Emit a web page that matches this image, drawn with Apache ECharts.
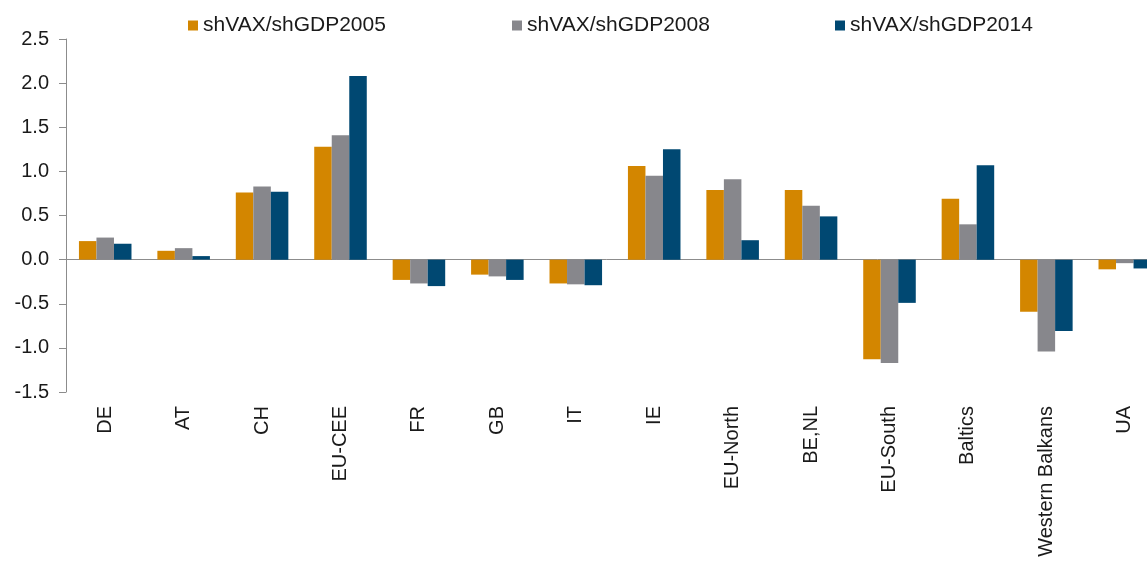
<!DOCTYPE html>
<html>
<head>
<meta charset="utf-8">
<script src="https://cdn.jsdelivr.net/npm/echarts@6/dist/echarts.min.js"></script>
<style>
html,body{margin:0;padding:0;background:#fff;overflow:hidden;}
#c{width:1147px;height:563px;}
</style>
</head>
<body>
<div id="c"></div>
<script>
var categories = ["DE","AT","CH","EU-CEE","FR","GB","IT","IE","EU-North","BE,NL","EU-South","Baltics","Western Balkans","UA"];
var seriesNames = ["shVAX/shGDP2005","shVAX/shGDP2008","shVAX/shGDP2014"];
var s2005 = [0.21,0.10,0.76,1.28,-0.23,-0.17,-0.27,1.06,0.79,0.79,-1.13,0.69,-0.59,-0.11];
var s2008 = [0.25,0.13,0.83,1.41,-0.27,-0.19,-0.28,0.95,0.91,0.61,-1.17,0.40,-1.04,-0.04];
var s2014 = [0.18,0.04,0.77,2.08,-0.30,-0.23,-0.29,1.25,0.22,0.49,-0.49,1.07,-0.81,-0.10];
var colors = ["#D38600","#87878C","#004872"];

var font = "Liberation Sans, Arial, sans-serif";
var chart = echarts.init(document.getElementById('c'), null, {renderer:'canvas'});
function mkLegend(i, left){
  return {
    data:[seriesNames[i]], left:left, top:15, itemWidth:10, itemHeight:10, itemGap:4,
    icon:'rect', selectedMode:false, padding:0,
    textStyle:{fontFamily:font, fontSize:21, color:'#1a1a1a', padding:[0,0,0,0]}
  };
}
chart.setOption({
  animation:false,
  legend:[mkLegend(0,188), mkLegend(1,512), mkLegend(2,835)],
  grid:{left:66, right:-17, top:39, bottom:171, containLabel:false, outerBoundsMode:'none'},
  xAxis:{
    type:'category', data:categories,
    axisLine:{onZero:true, lineStyle:{color:'#8c8c8c', width:1}},
    axisTick:{show:false},
    axisLabel:{rotate:90, interval:0, margin:14, fontFamily:font, fontSize:20, color:'#1a1a1a'}
  },
  yAxis:{
    type:'value', min:-1.5, max:2.5, interval:0.5,
    axisLine:{show:true, lineStyle:{color:'#8c8c8c', width:1}},
    axisTick:{show:true, length:7, lineStyle:{color:'#8c8c8c'}},
    splitLine:{show:false},
    axisLabel:{margin:17, fontFamily:font, fontSize:20, color:'#1a1a1a',
      formatter:function(v){return v.toFixed(1);}}
  },
  series:[
    {name:seriesNames[0], type:'bar', data:s2005, barGap:'0%', barCategoryGap:'33%', itemStyle:{color:colors[0]}},
    {name:seriesNames[1], type:'bar', data:s2008, barGap:'0%', barCategoryGap:'33%', itemStyle:{color:colors[1]}},
    {name:seriesNames[2], type:'bar', data:s2014, barGap:'0%', barCategoryGap:'33%', itemStyle:{color:colors[2]}}
  ]
});
</script>
</body>
</html>
